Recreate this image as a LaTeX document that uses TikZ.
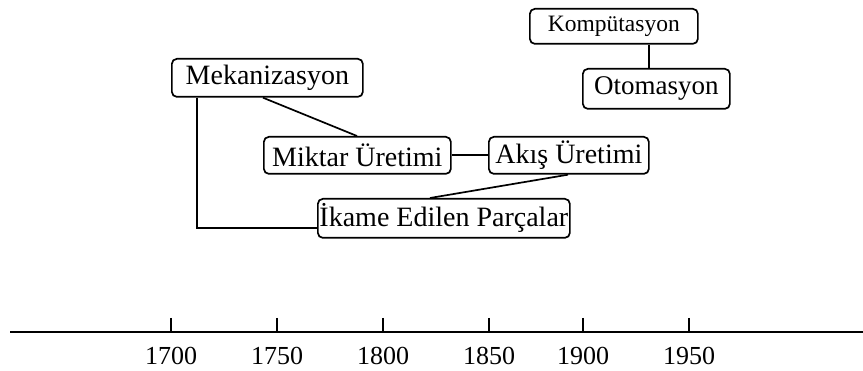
\documentclass[tikz,border=0pt]{standalone}
\usepackage{fontspec}
\setmainfont{Liberation Serif}
\begin{document}
\begin{tikzpicture}[x=1pt,y=-1pt,
  era/.style={draw,line width=1.7pt,rounded corners=5pt,inner sep=0pt,
    font=\fontsize{28}{28}\selectfont,anchor=north west},
  link/.style={line width=1.7pt},
  axis/.style={line width=2.2pt},
  yearlbl/.style={font=\fontsize{26}{26}\selectfont,anchor=base}]
\useasboundingbox (0,0) rectangle (863,371);
% stages of manufacturing
\node[era,minimum width=168pt,minimum height=35pt,font=\fontsize{23.5}{23.5}\selectfont] (komp) at (529,8) {Kompütasyon};
\node[era,minimum width=147pt,minimum height=40pt,font=\fontsize{27}{27}\selectfont] (oto) at (582,68) {Otomasyon};
\node[era,minimum width=191pt,minimum height=38pt] (mek) at (171,58) {Mekanizasyon};
\node[era,minimum width=187pt,minimum height=37pt] (mik) at (263,136) {Miktar Üretimi};
\node[era,minimum width=160pt,minimum height=37pt] (akis) at (488,136) {Akış Üretimi};
\node[era,minimum width=252pt,minimum height=39pt] (ikame) at (317,198) {İkame Edilen Parçalar};
% relations
\draw[link] (komp.south -| 649,0) -- (oto.north -| 649,0);
\draw[link] (mek.south -| 263,0) -- (mik.north -| 357,0);
\draw[link] (mek.south -| 197,0) |- (ikame.west |- 0,228);
\draw[link] (mik.east) -- (akis.west);
\draw[link] (akis.south -| 568,0) -- (ikame.north -| 430,0);
% time axis
\coordinate (axL) at (10,332);
\coordinate (axR) at (863,332);
\draw[axis] (axL) -- (axR);
\foreach \x/\yr in {171/1700,277/1750,383/1800,489/1850,583/1900,689/1950}{
  \draw[link] (\x,318) -- (\x,332);
  \node[yearlbl] at (\x,365) {\yr};
}
\end{tikzpicture}
\end{document}
